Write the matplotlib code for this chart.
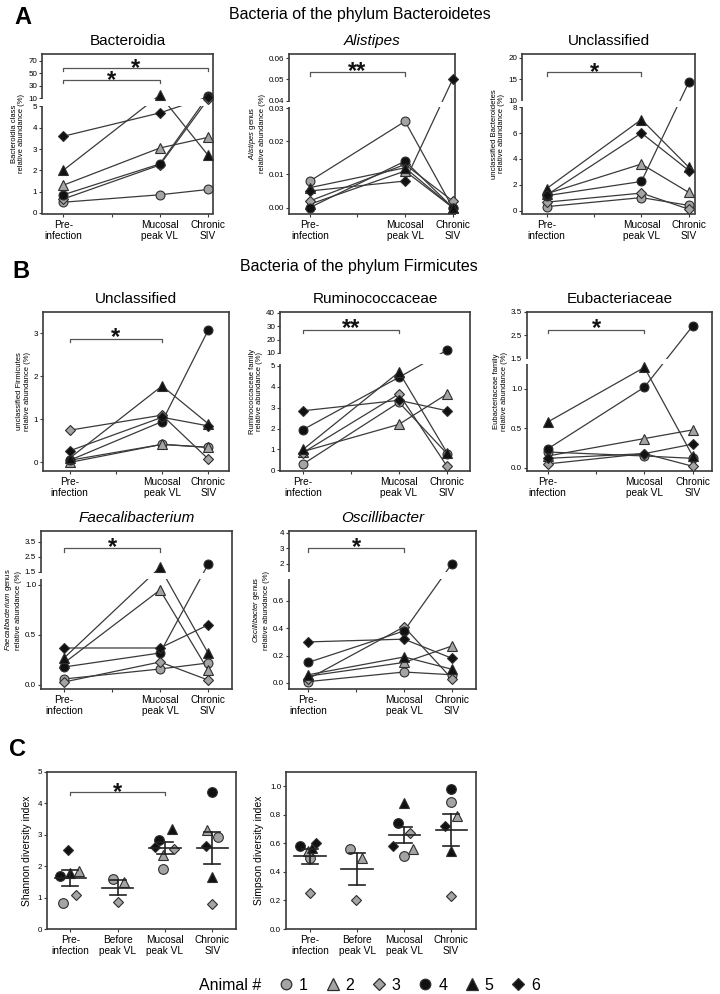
import numpy as np
import matplotlib
matplotlib.use("Agg")
import matplotlib.pyplot as plt
from matplotlib.transforms import blended_transform_factory, offset_copy
from matplotlib.patches import Rectangle
from matplotlib.lines import Line2D

plt.rcParams['font.family'] = ['Liberation Sans', 'DejaVu Sans']
plt.rcParams['mathtext.fontset'] = 'custom'
plt.rcParams['mathtext.it'] = 'Liberation Sans:italic'
plt.rcParams['mathtext.rm'] = 'Liberation Sans'

# ---------------- data ----------------
ANIMALS = ['1', '2', '3', '4', '5', '6']
TIMEPOINTS = ['Pre-\ninfection', 'Before\npeak VL', 'Mucosal\npeak VL', 'Chronic\nSIV']
LINE_TP = [0, 2, 3]          # Pre-infection, Mucosal peak VL, Chronic SIV
LINE_TP_LABELS = ['Pre-\ninfection', '', 'Mucosal\npeak VL', 'Chronic\nSIV']

# values per animal: [pre, mucosal peak, chronic]
bacteroidia = [[0.5, 0.85, 1.1], [1.3, 3.05, 3.55], [0.65, 2.25, 9.5],
               [0.85, 2.3, 14.0], [2.0, 15.0, 2.7], [3.6, 4.7, 12.0]]
alistipes = [[0.008, 0.026, 0.0], [0.001, 0.011, 0.0], [0.002, 0.013, 0.002],
             [0.0, 0.014, 0.0], [0.006, 0.012, 0.0], [0.005, 0.008, 0.05]]
uncl_bacteroidetes = [[0.3, 1.0, 0.4], [1.3, 3.6, 1.4], [0.65, 1.35, 0.1],
                      [1.15, 2.25, 14.3], [1.7, 7.05, 3.35], [1.2, 6.0, 3.1]]
uncl_firmicutes = [[0.05, 0.42, 0.35], [0.0, 0.42, 0.35], [0.75, 1.1, 0.08],
                   [0.05, 0.95, 3.08], [0.1, 1.78, 0.9], [0.27, 1.05, 0.85]]
ruminococcaceae = [[0.3, 3.25, 0.8], [0.9, 2.2, 3.65], [0.85, 3.65, 0.2],
                   [1.95, 4.45, 12.0], [1.0, 4.7, 0.85], [2.85, 3.35, 2.85]]
eubacteriaceae = [[0.2, 0.15, 0.12], [0.15, 0.37, 0.48], [0.05, 0.18, 0.02],
                  [0.24, 1.02, 2.9], [0.58, 1.27, 0.15], [0.12, 0.18, 0.3]]
faecalibacterium = [[0.06, 0.16, 0.22], [0.22, 0.95, 0.15], [0.03, 0.23, 0.05],
                    [0.18, 0.32, 2.0], [0.27, 1.8, 0.32], [0.37, 0.37, 0.6]]
oscillibacter = [[0.01, 0.08, 0.06], [0.05, 0.15, 0.27], [0.03, 0.41, 0.03],
                 [0.15, 0.38, 2.0], [0.06, 0.19, 0.1], [0.3, 0.32, 0.18]]

# values per animal: [pre, before peak, mucosal peak, chronic]
nan = np.nan
shannon = [[0.83, 1.6, 1.9, 2.93], [1.85, 1.5, 2.35, 3.15], [1.08, 0.86, 2.55, 0.8],
           [1.69, nan, 2.85, 4.36], [1.78, nan, 3.2, 1.66], [2.52, nan, 2.6, 2.64]]
simpson = [[0.5, 0.56, 0.51, 0.89], [0.55, 0.5, 0.56, 0.79], [0.25, 0.2, 0.67, 0.23],
           [0.58, nan, 0.74, 0.98], [0.57, nan, 0.88, 0.55], [0.6, nan, 0.58, 0.72]]

# y tick values / labels
A1_YT = [0, 1, 2, 3, 4, 5, 10, 30, 50, 70]
A1_YL = ['0', '1', '2', '3', '4', '5', '10', '30', '50', '70']
A2_YT = [0, 0.01, 0.02, 0.03, 0.04, 0.05, 0.06]
A2_YL = ['0.00', '0.01', '0.02', '0.03', '0.04', '0.05', '0.06']
A3_YT = [0, 2, 4, 6, 8, 10, 15, 20]
A3_YL = ['0', '2', '4', '6', '8', '10', '15', '20']
B1_YT = [0, 1, 2, 3]
B1_YL = ['0', '1', '2', '3']
B2_YT = [0, 1, 2, 3, 4, 5, 10, 20, 30, 40]
B2_YL = ['0', '1', '2', '3', '4', '5', '10', '20', '30', '40']
B3_YT = [0, 0.5, 1.0, 1.5, 2.5, 3.5]
B3_YL = ['0.0', '0.5', '1.0', '1.5', '2.5', '3.5']
FA_YT = [0, 0.5, 1.0, 1.5, 2.5, 3.5]
FA_YL = ['0.0', '0.5', '1.0', '1.5', '2.5', '3.5']
OS_YT = [0, 0.2, 0.4, 0.6, 2, 3, 4]
OS_YL = ['0.0', '0.2', '0.4', '0.6', '2', '3', '4']
C1_YT = [0, 1, 2, 3, 4, 5]
C1_YL = ['0', '1', '2', '3', '4', '5']
C2_YT = [0, 0.2, 0.4, 0.6, 0.8, 1.0]
C2_YL = ['0.0', '0.2', '0.4', '0.6', '0.8', '1.0']

# ---------------- style ----------------
W, H = 720, 994
fig = plt.figure(figsize=(W / 100, H / 100), dpi=100)
GRAY = '#a4a4a4'
BLACK = '#111111'
EDGE = '#2e2e2e'
LINEC = '#3a3a3a'
SPINE = '#3a3a3a'
STYLES = [('o', GRAY), ('^', GRAY), ('D', GRAY), ('o', BLACK), ('^', BLACK), ('D', BLACK)]
MS = {'o': 6.4, '^': 7.0, 'D': 4.9}


def add_ax(box):
    l, t, r, b = box
    return fig.add_axes([l / W, 1 - b / H, (r - l) / W, (b - t) / H])


def make_break(lo0, lo1, up0, up1, hlo, hgap, hup):
    s1 = hlo / (lo1 - lo0)
    sg = hgap / (up0 - lo1)
    s2 = hup / (up1 - up0)

    def fwd(y):
        y = np.asarray(y, dtype=float)
        return np.where(y <= lo1, (y - lo0) * s1,
                        np.where(y <= up0, hlo + (y - lo1) * sg,
                                 hlo + hgap + (y - up0) * s2))

    def inv(v):
        v = np.asarray(v, dtype=float)
        return np.where(v <= hlo, lo0 + v / s1,
                        np.where(v <= hlo + hgap, lo1 + (v - hlo) / sg,
                                 up0 + (v - hlo - hgap) / s2))
    return fwd, inv


def style_axes(ax, yt, yl, xlabels):
    for s in ax.spines.values():
        s.set_color(SPINE)
        s.set_linewidth(1.2)
    ax.set_yticks(yt)
    ax.set_yticklabels(yl)
    ax.set_xticks(range(len(xlabels)))
    ax.set_xticklabels(xlabels, fontsize=7.3, linespacing=1.15)
    ax.tick_params(axis='y', labelsize=5.8, length=2.5, width=0.8, pad=1, color=SPINE)
    ax.tick_params(axis='x', length=2.5, width=0.8, pad=2, color=SPINE)


def bracket(ax, x0, x1, yb, ys, stars):
    tr = blended_transform_factory(ax.transData, ax.transAxes)
    ax.plot([x0, x0, x1, x1], [yb - 0.02, yb, yb, yb - 0.02], transform=tr,
            color='#555555', lw=0.9, clip_on=False, zorder=4)
    fs = 17
    tr2 = offset_copy(tr, fig=fig, y=-0.56 * fs, units='points')
    ax.text((x0 + x1) / 2, ys, stars, transform=tr2, ha='center', va='baseline',
            fontsize=fs, fontweight='bold', color='#111111')


def line_panel(box, xlim, title, italic, ylabel, data, yt, yl, ylim, brk, brackets):
    ax = add_ax(box)
    if brk is not None:
        fwd, inv = make_break(*brk)
        ax.set_yscale('function', functions=(fwd, inv))
    for v in data:
        ax.plot(LINE_TP, v, color=LINEC, lw=0.9, zorder=2)
    if brk is not None:
        lo1, up0 = brk[1], brk[2]
        d = (up0 - lo1) * 0.1
        tr = blended_transform_factory(ax.transAxes, ax.transData)
        ax.add_patch(Rectangle((-0.03, lo1 + d), 1.025, (up0 - lo1) - 2 * d, transform=tr,
                               facecolor='white', edgecolor='none', zorder=2.6, clip_on=False))
    for i, v in enumerate(data):
        m, c = STYLES[i]
        ax.plot(LINE_TP, v, ls='none', marker=m, ms=MS[m], mfc=c, mec=EDGE, mew=0.8,
                zorder=3 + i * 0.01, clip_on=False)
    ax.set_xlim(*xlim)
    ax.set_ylim(*ylim)
    style_axes(ax, yt, yl, LINE_TP_LABELS)
    ax.set_title(title, fontsize=11, pad=6.5, fontstyle='italic' if italic else 'normal')
    ax.set_ylabel(ylabel, fontsize=5.5, labelpad=2, linespacing=1.15)
    for b in brackets:
        bracket(ax, *b)
    return ax


def scatter_panel(box, xlim, ylabel, data, yt, yl, ylim, jitter, brackets):
    ax = add_ax(box)
    arr = np.array(data, dtype=float)
    for i in range(arr.shape[0]):
        m, c = STYLES[i]
        xs = np.arange(arr.shape[1]) + np.array(jitter[i]) / 47.0
        ax.plot(xs, arr[i], ls='none', marker=m, ms=MS[m] + 0.6, mfc=c, mec=EDGE, mew=0.8,
                zorder=3 + i * 0.01)
    for j in range(arr.shape[1]):
        col = arr[:, j]
        col = col[~np.isnan(col)]
        mu = col.mean()
        se = col.std(ddof=1) / np.sqrt(len(col))
        ax.plot([j - 0.33, j + 0.33], [mu, mu], color='#222222', lw=1.2, zorder=4)
        ax.plot([j, j], [mu - se, mu + se], color='#222222', lw=1.2, zorder=4)
        for yy in (mu - se, mu + se):
            ax.plot([j - 0.17, j + 0.17], [yy, yy], color='#222222', lw=1.2, zorder=4)
    ax.set_xlim(*xlim)
    ax.set_ylim(*ylim)
    style_axes(ax, yt, yl, TIMEPOINTS)
    ax.set_ylabel(ylabel, fontsize=7.5, labelpad=4)
    for b in brackets:
        bracket(ax, *b)
    return ax


# ---------------- panel A ----------------
line_panel((42, 54, 213, 213.5), (-0.44, 3.1), 'Bacteroidia', False,
           'Bacteroidia class\nrelative abundance (%)', bacteroidia, A1_YT, A1_YL,
           (-0.03, 80.8), (0, 5, 10, 70, 106, 8.3, 37.3),
           [(0, 2, 0.838, 0.874, '*'), (0, 3, 0.912, 0.95, '*')])
line_panel((289, 54, 455, 213.5), (-0.44, 3.05), 'Alistipes', True,
           r'$\mathit{Alistipes}$ genus' + '\nrelative abundance (%)', alistipes, A2_YT, A2_YL,
           (-0.0018, 0.0619), (0, 0.03, 0.04, 0.06, 99.4, 7.3, 42.7),
           [(0, 2, 0.885, 0.935, '**')])
line_panel((522, 54, 695, 213.5), (-0.52, 3.13), 'Unclassified', False,
           'unclassified Bacteroidetes\nrelative abundance (%)', uncl_bacteroidetes, A3_YT, A3_YL,
           (-0.23, 20.9), (0, 8, 10, 20, 103.3, 6.7, 42.7),
           [(0, 2, 0.885, 0.925, '*')])

# ---------------- panel B ----------------
line_panel((43, 312, 229, 471), (-0.58, 3.45), 'Unclassified', False,
           'unclassified Firmicutes\nrelative abundance (%)', uncl_firmicutes, B1_YT, B1_YL,
           (-0.2, 3.5), None, [(0, 2, 0.83, 0.88, '*')])
line_panel((280, 312, 470, 471), (-0.48, 3.48), 'Ruminococcaceae', False,
           'Ruminococcaceae family\nrelative abundance (%)', ruminococcaceae, B2_YT, B2_YL,
           (-0.03, 40.75), (0, 5, 10, 40, 105, 13, 40),
           [(0, 2, 0.887, 0.94, '**')])
line_panel((527, 312, 712, 471), (-0.43, 3.4), 'Eubacteriaceae', False,
           'Eubacteriaceae family\nrelative abundance (%)', eubacteriaceae, B3_YT, B3_YL,
           (-0.04, 3.5), (0, 1.3, 1.5, 3.5, 102.7, 6.5, 46.5),
           [(0, 2, 0.887, 0.94, '*')])
line_panel((41, 531, 232, 689), (-0.48, 3.5), 'Faecalibacterium', True,
           r'$\mathit{Faecalibacterium}$ genus' + '\nrelative abundance (%)', faecalibacterium,
           FA_YT, FA_YL, (-0.04, 4.23), (0, 1.05, 1.5, 3.5, 105, 8, 30),
           [(0, 2, 0.89, 0.94, '*')])
line_panel((289, 531, 476, 689), (-0.4, 3.5), 'Oscillibacter', True,
           r'$\mathit{Oscillibacter}$ genus' + '\nrelative abundance (%)', oscillibacter,
           OS_YT, OS_YL, (-0.044, 4.1), (0, 0.75, 1.5, 4.0, 102.75, 9, 38.75),
           [(0, 2, 0.89, 0.94, '*')])

# ---------------- panel C ----------------
SH_JIT = [[-7, -5, -2, 6], [9, 6, -2, -5], [6, 0, 9, 0],
          [-10, 0, -6, 0], [0, 0, 7, 0], [-2, 0, -10, -6]]
SI_JIT = [[0, -7, 0, 0], [-2, 5, 9, 6], [0, -1, 6, 0],
          [-10, 0, -6, 0], [2, 0, 0, 0], [6, 0, -11, -6]]
scatter_panel((47, 772, 236, 929), (-0.49, 3.5), 'Shannon diversity index', shannon,
              C1_YT, C1_YL, (0, 5), SH_JIT, [(0, 2, 0.873, 0.915, '*')])
scatter_panel((286, 772, 476, 929), (-0.51, 3.53), 'Simpson diversity index', simpson,
              C2_YT, C2_YL, (0, 1.1), SI_JIT, [])

# ---------------- titles / labels ----------------
fig.text(360 / W, 1 - 15 / H, 'Bacteria of the phylum Bacteroidetes', fontsize=11.5,
         ha='center', va='center')
fig.text(359 / W, 1 - 267 / H, 'Bacteria of the phylum Firmicutes', fontsize=11.5,
         ha='center', va='center')
for lab, x, y in [('A', 23, 17), ('B', 21, 271), ('C', 18, 750)]:
    fig.text(x / W, 1 - y / H, lab, fontsize=17, fontweight='bold', ha='center', va='center')

# ---------------- legend ----------------
handles = [Line2D([], [], ls='none', marker=m, ms=MS[m] + 1.2, mfc=c, mec=EDGE, mew=0.9)
           for m, c in STYLES]
fig.legend(handles, ANIMALS, ncol=6, loc='center left', bbox_to_anchor=(264 / W, 1 - 985 / H),
           frameon=False, fontsize=11.5, handlelength=1.0, handletextpad=0.3,
           columnspacing=1.05, borderpad=0.4)
fig.text(199 / W, 1 - 985 / H, 'Animal #', fontsize=11.5, ha='left', va='center')

fig.savefig('out.png', dpi=100)
